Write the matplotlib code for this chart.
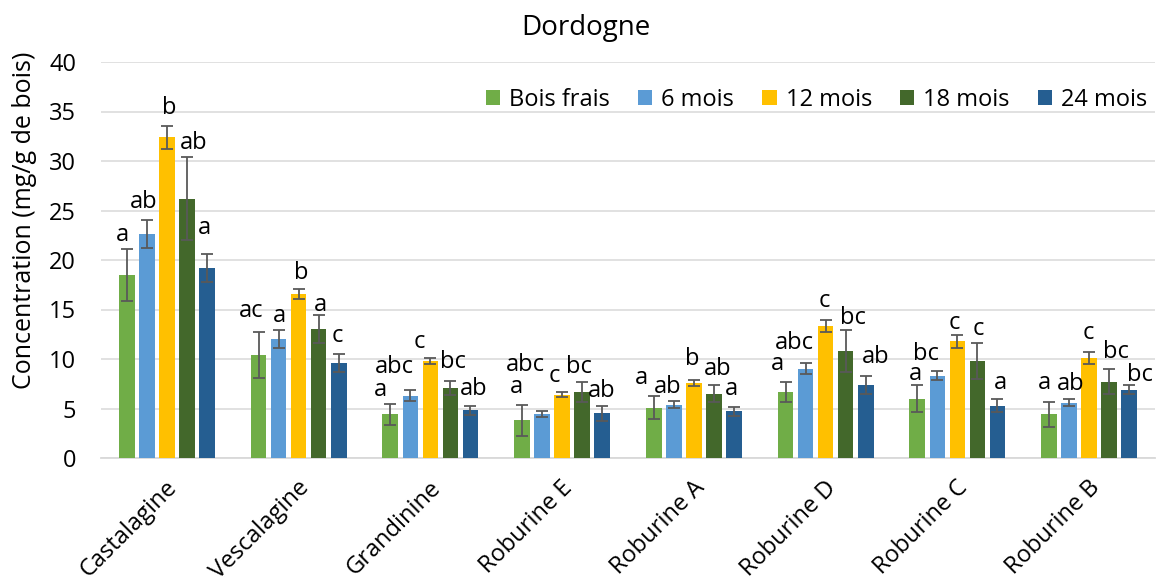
import numpy as np
import matplotlib
matplotlib.use('Agg')
import matplotlib.pyplot as plt
import matplotlib.transforms as mtransforms

plt.rcParams['font.family'] = ['Open Sans', 'DejaVu Sans']

# composes et series
composes = ['Castalagine', 'Vescalagine', 'Grandinine', 'Roburine E',
            'Roburine A', 'Roburine D', 'Roburine C', 'Roburine B']
series = ['Bois frais', '6 mois', '12 mois', '18 mois', '24 mois']

# moyennes (mg/g de bois)
bois_frais = [18.5, 10.4, 4.4, 3.8, 5.1, 6.7, 6.0, 4.4]
mois_6 = [22.6, 12.0, 6.3, 4.4, 5.4, 9.0, 8.3, 5.6]
mois_12 = [32.4, 16.6, 9.8, 6.4, 7.6, 13.3, 11.8, 10.1]
mois_18 = [26.2, 13.0, 7.1, 6.7, 6.5, 10.8, 9.8, 7.7]
mois_24 = [19.2, 9.6, 4.8, 4.5, 4.7, 7.4, 5.3, 6.9]

# ecarts types
err_bois_frais = [2.6, 2.3, 1.05, 1.6, 1.2, 1.0, 1.4, 1.3]
err_6 = [1.4, 0.9, 0.55, 0.3, 0.37, 0.55, 0.45, 0.35]
err_12 = [1.15, 0.5, 0.35, 0.27, 0.3, 0.6, 0.65, 0.6]
err_18 = [4.2, 1.4, 0.7, 1.0, 0.85, 2.1, 1.8, 1.25]
err_24 = [1.4, 0.9, 0.5, 0.75, 0.45, 0.93, 0.65, 0.44]

# lettres de significativite
let_bois_frais = ['a', 'ac', 'a', 'a', 'a', 'a', 'a', 'a']
let_6 = ['ab', 'a', 'abc', 'abc', 'ab', 'abc', 'bc', 'ab']
let_12 = ['b', 'b', 'c', 'c', 'b', 'c', 'c', 'c']
let_18 = ['ab', 'a', 'bc', 'bc', 'ab', 'bc', 'c', 'bc']
let_24 = ['a', 'c', 'ab', 'ab', 'a', 'ab', 'a', 'bc']

means = [bois_frais, mois_6, mois_12, mois_18, mois_24]
errs = [err_bois_frais, err_6, err_12, err_18, err_24]
letters = [let_bois_frais, let_6, let_12, let_18, let_24]

colors = ['#70AD47', '#5B9BD5', '#FFC000', '#43682B', '#255E91']

# decalage manuel des etiquettes (pixels)
nudge = [
    [(-4, 8), (-7, 15), (-10, 8), (-6, 12), (-12, 12), (-8, 12), (-2, 5), (-5, 13)],
    [(-3, 12), (1, 8), (-16, 17), (-17, 40), (-6, 8), (-11, 14), (-11, 11), (2, 9)],
    [(2, 12), (3, 10), (-11, 10), (-8, 10), (-2, 15), (-1, 13), (-3, 6), (-1, 13)],
    [(7, 8), (2, 4), (3, 13), (-3, 9), (4, 10), (7, 6), (1, 8), (7, 11)],
    [(-2, 20), (-1, 12), (3, 11), (0, 9), (-2, 12), (10, 13), (3, 10), (11, 4)],
]

fig = plt.figure(figsize=(11.58, 5.86), dpi=100)
ax = fig.add_axes([101/1158, 1-458/586, 1054/1158, 396/586])

x = np.arange(len(composes))
pitch = 0.152
w = 0.119
for j in range(len(series)):
    xs = x + (j - 2)*pitch
    ax.bar(xs, means[j], w, color=colors[j], label=series[j], zorder=3)
    ax.errorbar(xs, means[j], yerr=errs[j], fmt='none', ecolor='#595959',
                elinewidth=1.3, capsize=4.5, capthick=1.3, zorder=4)
    for i in range(len(composes)):
        dx, dy = nudge[j][i]
        ax.annotate(letters[j][i], xy=(xs[i], means[j][i] + errs[j][i]),
                    xytext=(dx*0.72, dy*0.72), textcoords='offset points',
                    ha='center', va='baseline', fontsize=17, color='black',
                    zorder=5)

ax.set_ylim(0, 40)
ax.set_xlim(-0.5, 7.5)
ax.set_yticks(np.arange(0, 41, 5))
ax.grid(axis='y', color='#D9D9D9', lw=1.1, zorder=0)
for s in ['top', 'right', 'left']:
    ax.spines[s].set_visible(False)
ax.spines['bottom'].set_color('#D9D9D9')
ax.spines['bottom'].set_linewidth(1.3)
ax.tick_params(axis='both', length=0, labelsize=17, labelcolor='black')
ax.tick_params(axis='y', pad=18)
ax.set_xticks(x)
ax.set_xticklabels(composes)
ax.tick_params(axis='x', pad=19, labelsize=17)
shift = mtransforms.ScaledTranslation(7/100, 0, fig.dpi_scale_trans)
for lab in ax.get_xticklabels():
    lab.set_rotation(45)
    lab.set_ha('right')
    lab.set_va('center')
    lab.set_rotation_mode('anchor')
    lab.set_transform(lab.get_transform() + shift)

ax.legend(loc='center right', bbox_to_anchor=(1.002, 0.904), ncol=5,
          frameon=False, fontsize=17, handlelength=0.6, handleheight=0.6,
          handletextpad=0.38, columnspacing=1.2, borderaxespad=0)

fig.text(25/1158, 1-220/586, 'Concentration (mg/g de bois)', rotation=90,
         ha='center', va='center', fontsize=18)
fig.text(586/1158, 1-28/586, 'Dordogne', ha='center', va='center', fontsize=20)

fig.savefig('out.png', dpi=100)
